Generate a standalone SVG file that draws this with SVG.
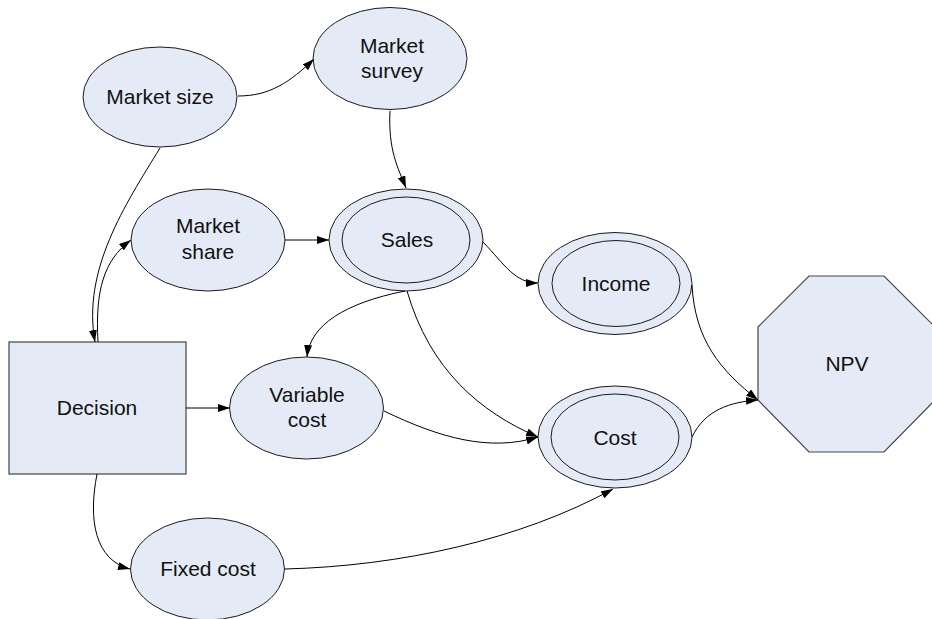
<svg xmlns="http://www.w3.org/2000/svg" width="932" height="619" viewBox="0 0 932 619">
  <style>
    .node { fill: #E5EBF6; stroke: #1a1a1a; stroke-width: 1; }
    .box { fill: #E5EBF6; stroke: #444; stroke-width: 1.2; }
    .lbl { font-family: "Liberation Sans", Arial, sans-serif; font-size: 21px; fill: #111; text-anchor: middle; }
    .edge { fill: none; stroke: #000; stroke-width: 1; marker-end: url(#arrow); }
  </style>
  <defs>
    <marker id="arrow" viewBox="0 0 12 8" refX="12" refY="4" markerWidth="12" markerHeight="8" markerUnits="userSpaceOnUse" orient="auto">
      <path d="M0,0 L12,4 L0,8 z" fill="#000"/>
    </marker>
  </defs>
  <rect width="932" height="619" fill="#fff"/>

  <!-- nodes -->
  <g id="market-size">
    <ellipse class="node" cx="160" cy="97" rx="77" ry="50"/>
    <text class="lbl" x="160" y="104">Market size</text>
  </g>
  <g id="market-survey">
    <ellipse class="node" cx="390" cy="58.5" rx="77" ry="51"/>
    <text class="lbl" x="392" y="53">Market</text>
    <text class="lbl" x="392" y="78">survey</text>
  </g>
  <g id="market-share">
    <ellipse class="node" cx="208" cy="240" rx="77" ry="51"/>
    <text class="lbl" x="208" y="233">Market</text>
    <text class="lbl" x="208" y="259">share</text>
  </g>
  <g id="sales">
    <ellipse class="node" cx="406" cy="240" rx="77" ry="51"/>
    <ellipse class="node" cx="406" cy="240" rx="64" ry="43"/>
    <text class="lbl" x="407" y="247">Sales</text>
  </g>
  <g id="income">
    <ellipse class="node" cx="615" cy="283.5" rx="77" ry="51"/>
    <ellipse class="node" cx="616" cy="283.5" rx="64" ry="43"/>
    <text class="lbl" x="616" y="291">Income</text>
  </g>
  <g id="decision">
    <rect class="box" x="9" y="342" width="177" height="132"/>
    <text class="lbl" x="97" y="415">Decision</text>
  </g>
  <g id="variable-cost">
    <ellipse class="node" cx="306.5" cy="408" rx="77" ry="51"/>
    <text class="lbl" x="307" y="402">Variable</text>
    <text class="lbl" x="307" y="427">cost</text>
  </g>
  <g id="cost">
    <ellipse class="node" cx="615" cy="437" rx="77" ry="51"/>
    <ellipse class="node" cx="615" cy="437" rx="64" ry="43"/>
    <text class="lbl" x="615" y="445">Cost</text>
  </g>
  <g id="fixed-cost">
    <ellipse class="node" cx="207.5" cy="569" rx="77" ry="51"/>
    <text class="lbl" x="208" y="576">Fixed cost</text>
  </g>
  <g id="npv">
    <polygon class="box" points="809,276 884,276 935,327 935,400 884,452 809,452 758,400 758,327"/>
    <text class="lbl" x="847" y="371">NPV</text>
  </g>

  <!-- connectors -->
  <g id="connectors">
    <path class="edge" d="M238,96 C270,96 290,82 314,59"/>
    <path class="edge" d="M390,111 C388,150 398,168 406,188"/>
    <path class="edge" d="M160,148 C125,205 82,270 95,342"/>
    <path class="edge" d="M98,342 C95,290 104,260 131,240"/>
    <path class="edge" d="M285,240 L329,240"/>
    <path class="edge" d="M483,242 C505,265 515,283 538,283"/>
    <path class="edge" d="M405,291 C345,303 310,325 307,357"/>
    <path class="edge" d="M407,291 C430,370 480,412 538,437"/>
    <path class="edge" d="M384,411 C440,438 490,452 538,437"/>
    <path class="edge" d="M186,408 L230,408"/>
    <path class="edge" d="M97,474 C88,520 95,560 130,569"/>
    <path class="edge" d="M285,569 C400,566 520,540 613,489"/>
    <path class="edge" d="M692,285 C695,340 720,370 758,400"/>
    <path class="edge" d="M692,437 C705,410 730,402 758,400"/>
  </g>
</svg>
